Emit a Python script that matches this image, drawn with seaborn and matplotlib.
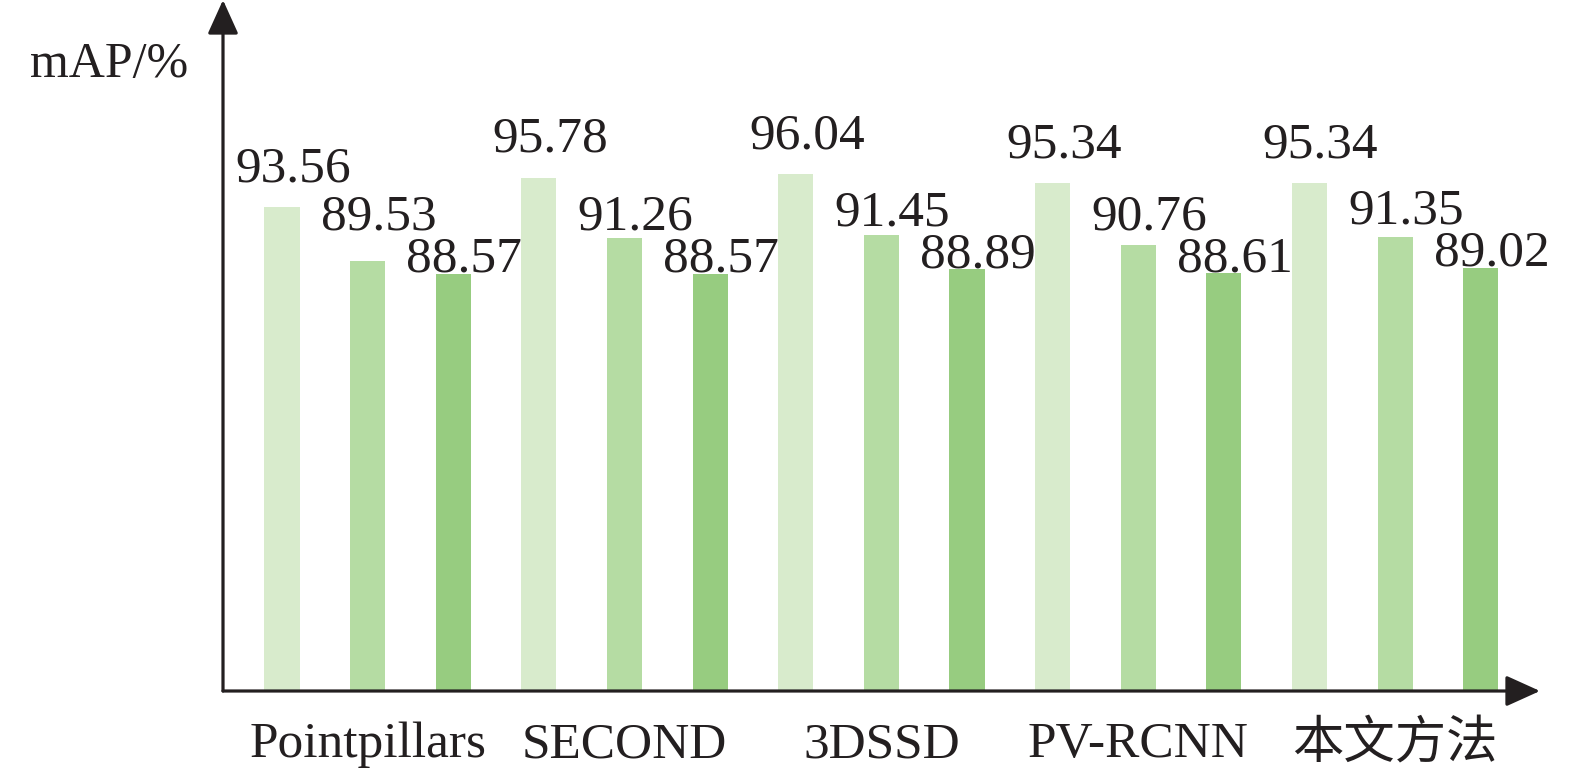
import pandas as pd
import matplotlib
matplotlib.use('Agg')
import matplotlib.pyplot as plt
import seaborn as sns

# Данные
methods = ['Pointpillars', 'SECOND', '3DSSD', 'PV-RCNN', '本文方法']
levels = ['Easy', 'Moderate', 'Hard']
easy = [93.56, 95.78, 96.04, 95.34, 95.34]
moderate = [89.53, 91.26, 91.45, 90.76, 91.35]
hard = [88.57, 88.57, 88.89, 88.61, 89.02]
colors = ['#d8ebcc', '#b5dca3', '#97cc80']

df = pd.DataFrame({
    'method': methods * 3,
    'level': [lv for lv in levels for _ in methods],
    'mAP': easy + moderate + hard,
})

sns.set_style('white')
plt.rcParams['font.family'] = ['Liberation Serif', 'Noto Sans CJK SC']

fig = plt.figure(figsize=(15.75, 7.69), dpi=100)
ax = fig.add_axes([223 / 1575, 1 - 691 / 769, (1540 - 223) / 1575, 691 / 769])

sns.barplot(data=df, x='method', y='mAP', hue='level', order=methods,
            hue_order=levels, palette=colors, width=1.0, gap=0.59,
            saturation=1, linewidth=0, legend=False, ax=ax)

ax.set_xlim(-0.563, 4.564)
ax.set_ylim(57.27, 109.1)

# Подписи значений: отступ над столбиком (в пикселях), без наложений
fig.canvas.draw()
pad = [26, 8, 2]
to_px = ax.transData.transform
for i in range(len(methods)):
    bars = [ax.containers[j][i] for j in range(3)]
    prev = None
    for j in (2, 1, 0):
        b = bars[j]
        xc = b.get_x() + b.get_width() / 2
        top_px = to_px((xc, b.get_height()))[1]
        base = top_px + pad[j]
        if prev is not None:
            base = max(base, prev + 42)
        prev = base
        ax.annotate(f'{b.get_height():.2f}', (xc, b.get_height()),
                    xytext=(8, (base - top_px) * 0.72), textcoords='offset points',
                    ha='center', va='baseline', fontsize=37, color='#231f20')

# Оси со стрелками
for s in ax.spines.values():
    s.set_visible(False)
arrow = dict(arrowstyle='-|>,head_length=0.42,head_width=0.19',
             mutation_scale=50, color='#231f20', lw=2.3,
             shrinkA=0, shrinkB=0)
ax.annotate('', xy=(0, 1), xytext=(0, 0), xycoords='axes fraction', arrowprops=arrow)
ax.annotate('', xy=(1, 0), xytext=(0, 0), xycoords='axes fraction', arrowprops=arrow)

ax.set_yticks([])
ax.set_xlabel('')
ax.set_ylabel('')
ax.tick_params(axis='x', length=0, pad=22, labelsize=37, labelcolor='#231f20')

fig.text(30 / 1575, 1 - 77 / 769, 'mAP/%', fontsize=36, color='#231f20',
         ha='left', va='baseline')

fig.savefig('out.png', dpi=100)
